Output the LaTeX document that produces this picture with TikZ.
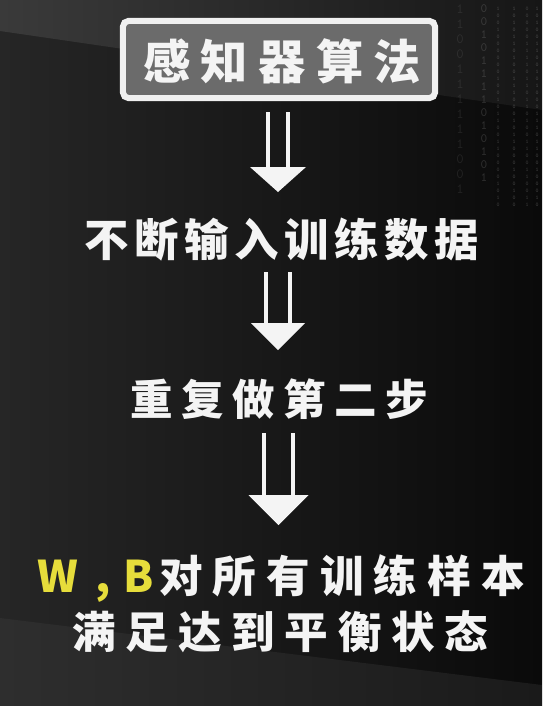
\documentclass[tikz,border=0pt]{standalone}
\usepackage{fontspec}
\newfontfamily\cjk{Noto Sans CJK SC}
\usetikzlibrary{calc}
\definecolor{boxfill}{HTML}{6B6B6B}
\definecolor{boxline}{HTML}{F0F0F0}
\definecolor{stepwhite}{HTML}{F4F4F4}
\definecolor{wbyellow}{HTML}{E6DD3B}
\definecolor{bgleft}{HTML}{262626}
\definecolor{bgright}{HTML}{0A0A0A}
\definecolor{bandleft}{HTML}{3A3A3A}
\definecolor{bandright}{HTML}{161616}
\definecolor{floorleft}{HTML}{2E2E2E}
\definecolor{floorright}{HTML}{1A1A1A}
% double-shafted arrow: top, tip, half gap, head half width, head height
\newcommand{\twinarrow}[5]{%
  \draw[twin line] ($(#1)+(-#3,0)$) -- ($(#2)+(-#3,-#5+2)$);
  \draw[twin line] ($(#1)+(#3,0)$) -- ($(#2)+(#3,-#5+2)$);
  \fill[stepwhite] ($(#2)+(-#4,-#5)$) -- ($(#2)+(#4,-#5)$) -- (#2) -- cycle;
}
\tikzset{
  twin line/.style={stepwhite, line width=2.9pt},
  step text/.style={anchor=base west, inner sep=0pt, text=stepwhite},
  title box/.style={draw=boxline, fill=boxfill, line width=4.3pt, rounded corners=4pt,
    minimum width=7.8cm, minimum height=1.93cm, inner sep=0pt},
  bit/.style={inner sep=0pt, text=gray!60},
}
\begin{document}
\begin{tikzpicture}[x=0.025cm, y=-0.025cm]
  \useasboundingbox (0,0) rectangle (542,706);
  % background
  \shade[left color=bgleft, right color=bgright] (0,0) rectangle (542,706);
  \shade[left color=bandleft, right color=bandright] (0,0) -- (542,0) -- (542,110) -- (0,31) -- cycle;
  \shade[left color=floorleft, right color=floorright] (0,618) -- (542,685) -- (542,706) -- (0,706) -- cycle;
  % falling bits, top right
  \pgfmathsetseed{17}
  \foreach \x/\fs/\dy/\op/\n in {460/10/15/0.12/12, 484/9/13/0.2/13, 498/4/7/0.3/28, 514/4/7/0.35/28, 527/4/7/0.3/28, 537/4/7/0.35/28}{
    \foreach \r in {0,...,\n}{
      \pgfmathrandominteger{\b}{0}{1}
      \node[bit, opacity=\op, font=\ttfamily\fontsize{\fs}{\fs}\selectfont] (bit-\x-\r) at (\x,{9+\r*\dy}) {\b};
    }
  }
  % title
  \node[title box] (title) at (279,59.5) {};
  \node[step text, font={\cjk\bfseries\fontsize{33.6}{40}\selectfont\addfontfeatures{LetterSpace=22}}]
    (titletext) at (143,79) {感知器算法};
  % steps
  \node[step text, font={\cjk\bfseries\fontsize{31.6}{38}\selectfont\addfontfeatures{LetterSpace=12.5}}]
    (step2) at (84,256) {不断输入训练数据};
  \node[step text, font={\cjk\bfseries\fontsize{30.2}{36}\selectfont\addfontfeatures{LetterSpace=20}}]
    (step3) at (130,415) {重复做第二步};
  \node[step text, font={\cjk\bfseries\fontsize{31}{37}\selectfont\addfontfeatures{LetterSpace=23}}]
    (step4a) at (37,592) {\textcolor{wbyellow}{W\hspace{0.4em},\hspace{0.3em}B}\hspace{0.12em}对所有训练样本};
  \node[step text, font={\cjk\bfseries\fontsize{31}{37}\selectfont\addfontfeatures{LetterSpace=22}}]
    (step4b) at (72,648) {满足达到平衡状态};
  % arrows
  \coordinate (a1) at (278,112);   \coordinate (a1tip) at (278,192);
  \coordinate (a2) at (278,272);   \coordinate (a2tip) at (278,350);
  \coordinate (a3) at (278.5,433); \coordinate (a3tip) at (278.5,525);
  \twinarrow{a1}{a1tip}{10}{28}{25}
  \twinarrow{a2}{a2tip}{12}{27}{27}
  \twinarrow{a3}{a3tip}{14.5}{30}{30}
\end{tikzpicture}
\end{document}
